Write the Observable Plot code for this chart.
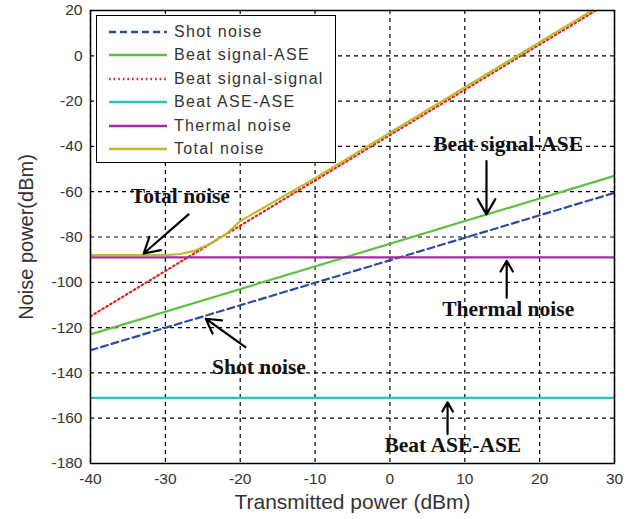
<!DOCTYPE html>
<html><head><meta charset="utf-8">
<script src="https://cdn.jsdelivr.net/npm/d3@7"></script>
<script src="https://cdn.jsdelivr.net/npm/@observablehq/plot@0.6"></script>
<style>
body{margin:0;background:#fff;}
#wrap{position:relative;width:636px;height:519px;}
#legend{position:absolute;left:96px;top:15px;width:240px;height:148px;border:1.5px solid #000;background:#fff;box-sizing:border-box;font-family:"Liberation Sans",Arial,sans-serif;font-size:16px;letter-spacing:1.3px;color:#333;}
.row{position:absolute;left:12px;height:20px;display:flex;align-items:center;white-space:nowrap;}
.row svg{margin-right:7px;}
</style>
</head><body>
<div id="wrap"></div>
<script>
const xTicks = [-40,-30,-20,-10,0,10,20,30];
const yTicks = [-180,-160,-140,-120,-100,-80,-60,-40,-20,0,20];

const shotX = [-40, 30];           const shotY = [-130, -60.5];
const sigAseX = [-40, 30];         const sigAseY = [-123, -53];
const sigSigX = [-40, 27.5];       const sigSigY = [-115, 20];
const aseAseX = [-40, 30];         const aseAseY = [-151, -151];
const thermX = [-40, 30];          const thermY = [-89, -89];
const totalX = [-40,-30,-28,-26,-24,-22,-20,-15,-10,0,10,20,27.5];
const totalY = [-88,-88,-87.5,-86,-83,-79,-73,-63.5,-54,-34,-14,6,21];

const seriesNames = ["Shot noise","Beat signal-ASE","Beat signal-signal","Beat ASE-ASE","Thermal noise","Total noise"];
const seriesColors = ["#2c4aa8","#5cc040","#e62020","#22c4c4","#a02ca0","#bcbc2a"];
const seriesDash = ["7,4",null,"1.6,3",null,null,null];

const annoText = ["Total noise","Shot noise","Beat signal-ASE","Thermal noise","Beat ASE-ASE"];
const annoTx = [-28, -17.5, 15.8, 15.8, 8.4];
const annoTy = [-62, -137.5, -39, -112, -172];
const arrX1 = [-26.9, -19.3, 12.9, 15.6, 7.7];
const arrY1 = [-70, -128.6, -46.5, -106.8, -167];
const arrX2 = [-32.9, -24.6, 12.9, 15.6, 7.7];
const arrY2 = [-87.3, -116.1, -70, -90.5, -153];

const seriesX = [shotX, sigAseX, sigSigX, aseAseX, thermX, totalX];
const seriesY = [shotY, sigAseY, sigSigY, aseAseY, thermY, totalY];

const lineMarks = seriesNames.map((n,i) => {
  const pts = seriesX[i].map((x,j)=>({x, y: seriesY[i][j]}));
  const opts = {x:"x", y:"y", stroke: seriesColors[i], strokeWidth: 2.2, clip: true};
  if (seriesDash[i]) opts.strokeDasharray = seriesDash[i];
  return Plot.line(pts, opts);
});

const annos = annoText.map((t,i)=>({t, x: annoTx[i], y: annoTy[i], x1: arrX1[i], y1: arrY1[i], x2: arrX2[i], y2: arrY2[i]}));

const chart = Plot.plot({
  width: 636, height: 519,
  marginLeft: 90, marginRight: 22, marginTop: 10, marginBottom: 56,
  style: {fontFamily: "'Liberation Sans', Arial, sans-serif", fontSize: "15.5px", color: "#333", background: "#fff"},
  x: {domain: [-40, 30], ticks: xTicks, tickSize: 0, tickPadding: 9, tickFormat: d => String(d), label: "Transmitted power (dBm)", labelArrow: "none", labelAnchor: "center", labelOffset: 45},
  y: {domain: [-180, 20], ticks: yTicks, tickSize: 0, tickPadding: 8, tickFormat: d => String(d), label: "Noise power(dBm)", labelArrow: "none", labelAnchor: "center", labelOffset: 72},
  marks: [
    Plot.gridX(xTicks, {stroke: "#000", strokeOpacity: 1, strokeDasharray: "4,4", strokeWidth: 1.2}),
    Plot.gridY(yTicks, {stroke: "#000", strokeOpacity: 1, strokeDasharray: "4,4", strokeWidth: 1.2}),
    ...lineMarks,
    Plot.arrow(annos, {x1:"x1", y1:"y1", x2:"x2", y2:"y2", stroke:"#000", strokeWidth: 2.2, headLength: 12, bend: 0}),
    Plot.text(annos, {x:"x", y:"y", text:"t", fontFamily: "'Liberation Serif','Times New Roman',serif", fontWeight: "bold", fontSize: 21.5, fill: "#111"}),
    Plot.frame({stroke: "#000", strokeWidth: 1.5})
  ]
});
chart.querySelectorAll('[aria-label="x-axis label"] text, [aria-label="y-axis label"] text').forEach(t => {
  t.textContent = t.textContent.replace(/\s*[→↑←↓]\s*/g, "");
});
chart.querySelectorAll('[aria-label="x-axis label"]').forEach(g => { g.style.fontSize = "21px"; g.style.fill = "#333"; });
chart.querySelectorAll('[aria-label="y-axis label"]').forEach(g => { g.style.fontSize = "20px"; g.style.fill = "#333"; });
const wrap = document.getElementById("wrap");
wrap.appendChild(chart);

const legend = document.createElement("div");
legend.id = "legend";
seriesNames.forEach((n,i)=>{
  const r = document.createElement("div");
  r.className = "row";
  r.style.top = (6 + i*23.4) + "px";
  r.innerHTML = `<svg width="58" height="6"><line x1="0" y1="3" x2="58" y2="3" stroke="${seriesColors[i]}" stroke-width="2.4" ${seriesDash[i] ? `stroke-dasharray="${seriesDash[i]}"` : ""}/></svg><span>${n}</span>`;
  legend.appendChild(r);
});
wrap.appendChild(legend);
</script>
</body></html>
